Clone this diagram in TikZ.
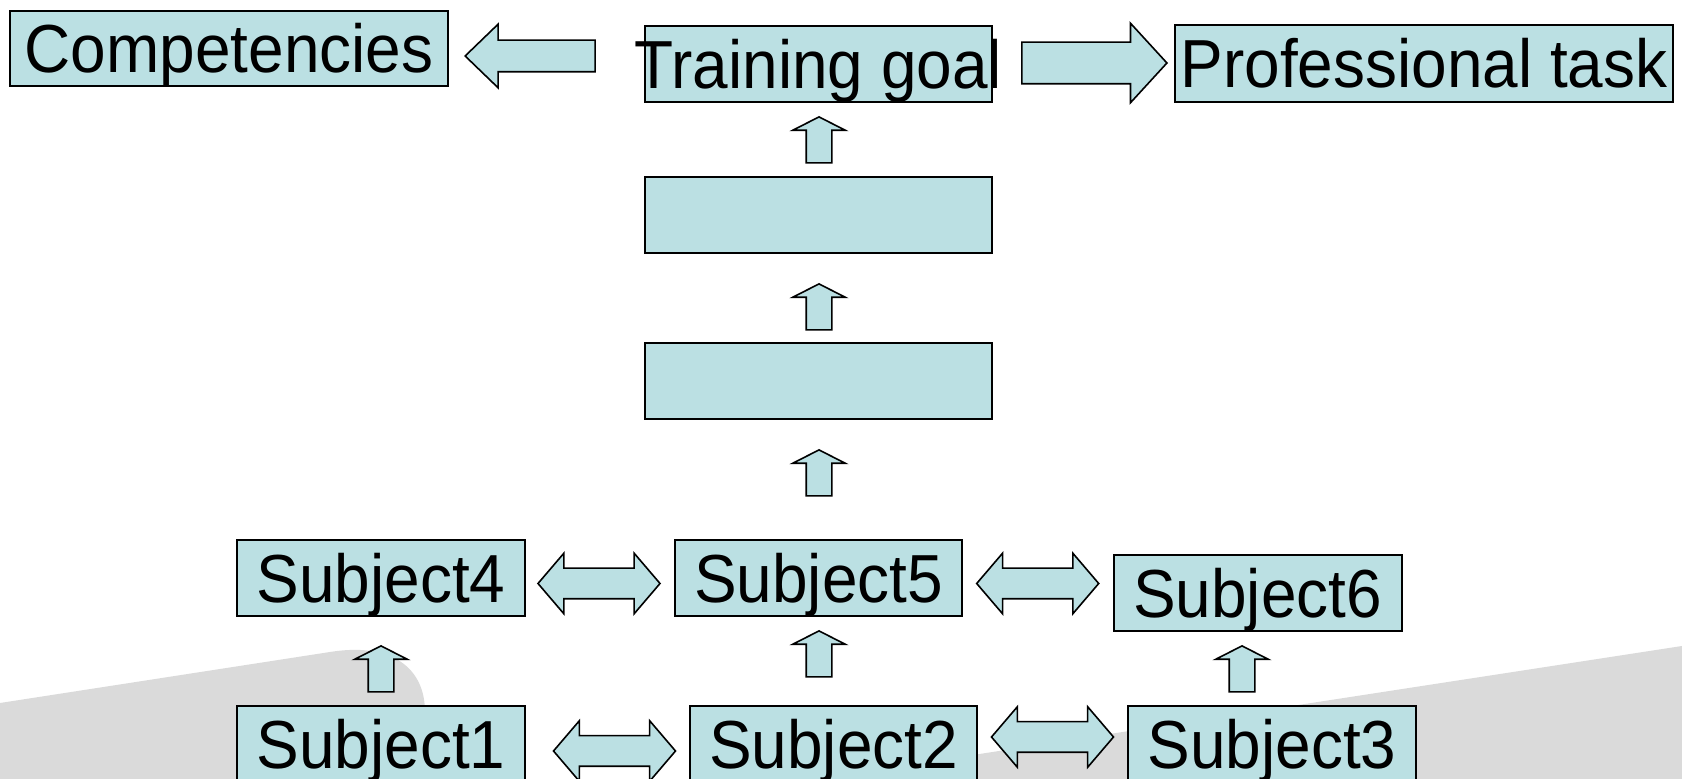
\documentclass[tikz,border=0pt]{standalone}
\usepackage{fontspec}
\setmainfont{Liberation Sans}
\newfontfamily\lbl[FakeStretch=0.94]{Liberation Sans}
\usetikzlibrary{shapes.arrows}
\definecolor{boxfill}{RGB}{187,224,227}
\definecolor{swoosh}{RGB}{218,218,218}
\begin{document}
\begin{tikzpicture}[x=0.5pt,y=-0.5pt,
  box/.style={draw=black, line width=1pt, fill=boxfill, inner sep=0pt,
    minimum height=38pt, minimum width=144pt, text height=24.3pt, text depth=0pt,
    font=\lbl\fontsize{34pt}{40pt}\selectfont},
  blk/.style={draw=black, line width=0.8pt, fill=boxfill, inner xsep=0pt},
  uparr/.style={blk, single arrow, shape border rotate=90, minimum height=23pt,
    inner sep=6pt, minimum width=25.5pt, single arrow head extend=6.75pt,
    single arrow tip angle=126, anchor=tip},
  dblarr/.style={blk, double arrow, minimum height=61pt, minimum width=29.5pt,
    inner ysep=7.25pt, double arrow head extend=7.5pt, double arrow tip angle=99}
]
\useasboundingbox (0,0) rectangle (1682,779);
% background swooshes
\fill[swoosh] (0,703) -- (330,652) .. controls (392,642) and (425,668) .. (425,712) -- (425,779) -- (0,779) -- cycle;
\fill[swoosh] (1682,646) -- (817,779) -- (1682,779) -- cycle;

% boxes
\node[box, minimum width=219pt, minimum height=37.5pt] (comp) at (229,48.5) {\makebox[0pt]{Competencies}};
\node[box, minimum width=173.5pt] (goal) at (818.5,64) {\makebox[0pt]{Training goal}};
\node[box, minimum width=249pt, minimum height=38.5pt] (task) at (1424,63.5) {\makebox[0pt]{Professional task}};
\node[box, minimum width=173.5pt] (mid2) at (818.5,215) {};
\node[box, minimum width=173.5pt] (mid3) at (818.5,381) {};
\node[box] (s4) at (381,578) {\makebox[0pt]{Subject4}};
\node[box, minimum width=143.5pt] (s5) at (818.5,578) {\makebox[0pt]{Subject5}};
\node[box] (s6) at (1257.5,593) {\makebox[0pt]{Subject6}};
\node[box] (s1) at (381,744) {\makebox[0pt]{Subject1}};
\node[box, minimum width=143.5pt] (s2) at (833.5,744) {\makebox[0pt]{Subject2}};
\node[box] (s3) at (1272,744) {\makebox[0pt]{Subject3}};

% block arrows
\node[blk, single arrow, shape border rotate=180, minimum height=65pt, minimum width=31pt,
  inner ysep=7.5pt, single arrow head extend=8pt, single arrow tip angle=88, anchor=tip] (toComp) at (464,56) {};
\node[blk, single arrow, minimum height=72.5pt, minimum width=39pt,
  inner ysep=10pt, single arrow head extend=9.5pt, single arrow tip angle=95, anchor=tip] (toTask) at (1168,63) {};
\node[uparr] (u1) at (819,116) {};
\node[uparr] (u2) at (819,283) {};
\node[uparr] (u3) at (819,449) {};
\node[uparr] (u14) at (381,645) {};
\node[uparr] (u25) at (819,630) {};
\node[uparr] (u36) at (1242,645) {};
\node[dblarr] (d45) at (599,583.5) {};
\node[dblarr] (d56) at (1037.7,583.5) {};
\node[dblarr] (d12) at (614.5,751) {};
\node[dblarr] (d23) at (1052.5,737) {};
\end{tikzpicture}
\end{document}
